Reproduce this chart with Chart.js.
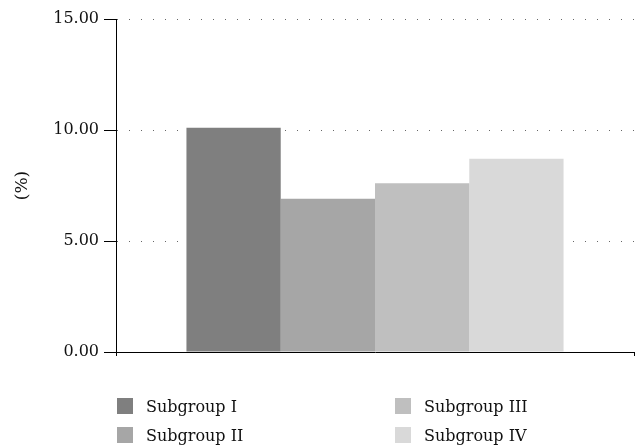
<!DOCTYPE html>
<html>
<head>
<meta charset="utf-8">
<script src="https://cdn.jsdelivr.net/npm/chart.js@4"></script>
<style>
  html, body { margin: 0; padding: 0; background: #fff; }
  #wrap { position: relative; width: 636px; height: 447px; }
  #legend { position: absolute; left: 117px; top: 398px; width: 500px;
    font-family: "DejaVu Serif", serif; font-size: 16px; color: #111; }
  .item { position: absolute; height: 17px; line-height: 17px; white-space: nowrap; }
  .box { display: inline-block; width: 16px; height: 16px; vertical-align: top; margin-right: 13px; }
</style>
</head>
<body>
<div id="wrap">
  <canvas id="canvas" width="636" height="447"></canvas>
  <div id="legend"></div>
</div>
<script>
var groups = ['Subgroup I', 'Subgroup II', 'Subgroup III', 'Subgroup IV'];
var values = [10.1, 6.9, 7.6, 8.7];
var colors = ['#7f7f7f', '#a6a6a6', '#bfbfbf', '#d9d9d9'];
var yTicks = [0, 5, 10, 15];

var datasets = groups.map(function (g, i) {
    return {
        label: g,
        data: [values[i]],
        backgroundColor: colors[i],
        borderWidth: 0,
        categoryPercentage: 0.728,
        barPercentage: 1
    };
});

window.onload = function () {
    var ctx = document.getElementById('canvas').getContext('2d');
    window.myBar = new Chart(ctx, {
        type: 'bar',
        data: { labels: [''], datasets: datasets },
        options: {
            responsive: false,
            animation: false,
            layout: { padding: { top: 19, right: 2, bottom: 91, left: 0 } },
            plugins: { legend: { display: false }, tooltip: { enabled: false } },
            scales: {
                x: {
                    grid: { offset: true, drawOnChartArea: false, drawTicks: true, tickLength: 4, color: '#000' },
                    border: { color: '#000', width: 1 },
                    ticks: { display: false }
                },
                y: {
                    min: 0, max: 15,
                    afterBuildTicks: function (scale) {
                        scale.ticks = yTicks.map(function (v) { return { value: v }; });
                    },
                    afterFit: function (scale) { scale.width = 116; },
                    grid: {
                        color: '#666', lineWidth: 1,
                        tickLength: 12, tickColor: '#000', tickBorderDash: [], tickWidth: 1
                    },
                    // in v4 the dash of the grid lines lives on border
                    border: { color: '#000', width: 1, dash: [1, 11], dashOffset: 0 },
                    ticks: {
                        padding: 5, color: '#111',
                        font: { family: 'DejaVu Serif', size: 16 },
                        callback: function (v) { return Number(v).toFixed(2); }
                    },
                    title: {
                        display: true, text: '(%)', color: '#111',
                        font: { family: 'DejaVu Serif', size: 17 },
                        padding: { top: 12, bottom: 0 }
                    }
                }
            }
        }
    });

    // legend in two columns: I, II left; III, IV right
    var legend = document.getElementById('legend');
    var pos = [[0, 0], [0, 29], [278, 0], [278, 29]];
    groups.forEach(function (g, i) {
        var d = document.createElement('div');
        d.className = 'item';
        d.style.left = pos[i][0] + 'px';
        d.style.top = pos[i][1] + 'px';
        d.innerHTML = '<span class="box" style="background:' + colors[i] + '"></span>' + g;
        legend.appendChild(d);
    });
};
</script>
</body>
</html>
